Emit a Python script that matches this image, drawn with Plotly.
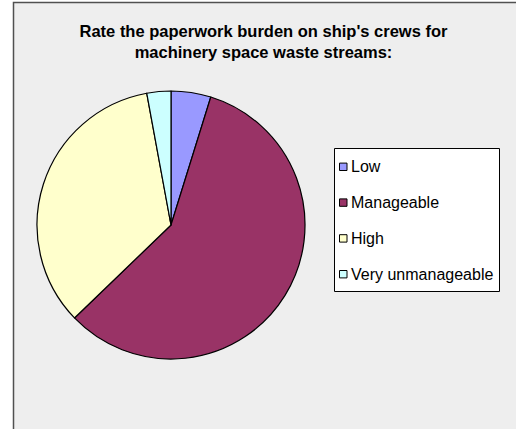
import plotly.graph_objects as go

# Survey responses (percent of respondents)
categories = ["Low", "Manageable", "High", "Very unmanageable"]
shares = [4.8, 58.0, 34.3, 2.9]
colors = ["#9999ff", "#993366", "#ffffcc", "#ccffff"]

title_lines = [
    "Rate the paperwork burden on ship's crews for",
    "machinery space waste streams:",
]

W, H = 516, 429
FONT = "Liberation Sans, Arial, sans-serif"


def px_x(x):
    return x / W


def px_y(y):
    return 1 - y / H


fig = go.Figure()

fig.add_trace(go.Pie(
    labels=categories,
    values=shares,
    marker=dict(colors=colors, line=dict(color="#000000", width=1.2)),
    sort=False,
    direction="clockwise",
    rotation=0,
    textinfo="none",
    hoverinfo="label+percent",
    showlegend=False,
    domain=dict(x=[px_x(37), px_x(305)], y=[px_y(359), px_y(91)]),
))

shapes = [
    # chart area frame
    dict(type="rect", xref="paper", yref="paper",
         x0=px_x(13.5), x1=1.2, y0=-0.2, y1=px_y(2.5),
         fillcolor="#eeeeee", line=dict(color="#505050", width=1.5),
         layer="below"),
    # legend box
    dict(type="rect", xref="paper", yref="paper",
         x0=px_x(334.5), x1=px_x(499.5), y0=px_y(291.5), y1=px_y(148.5),
         fillcolor="#ffffff", line=dict(color="#000000", width=1),
         layer="below"),
]

annotations = []
first_row, row_step = 166.8, 35.8
for i, (name, col) in enumerate(zip(categories, colors)):
    yc = first_row + i * row_step
    shapes.append(dict(
        type="rect", xref="paper", yref="paper",
        x0=px_x(339.5), x1=px_x(347), y0=px_y(yc + 3.7), y1=px_y(yc - 3.7),
        fillcolor=col, line=dict(color="#000000", width=1), layer="above",
    ))
    annotations.append(dict(
        xref="paper", yref="paper", x=px_x(349), y=px_y(yc),
        xanchor="left", yanchor="middle", showarrow=False,
        text=name, font=dict(family=FONT, size=16, color="#000000"),
    ))

fig.update_layout(
    width=W, height=H,
    margin=dict(l=0, r=0, t=0, b=0),
    paper_bgcolor="#ffffff",
    plot_bgcolor="rgba(0,0,0,0)",
    title=dict(
        text="<b>" + "<br>".join(title_lines) + "</b>",
        x=px_x(263.5), xanchor="center",
        y=px_y(37), yanchor="top", yref="container",
        font=dict(family=FONT, size=16.5, color="#000000"),
    ),
    shapes=shapes,
    annotations=annotations,
    showlegend=False,
)

fig.write_html("out.html")
